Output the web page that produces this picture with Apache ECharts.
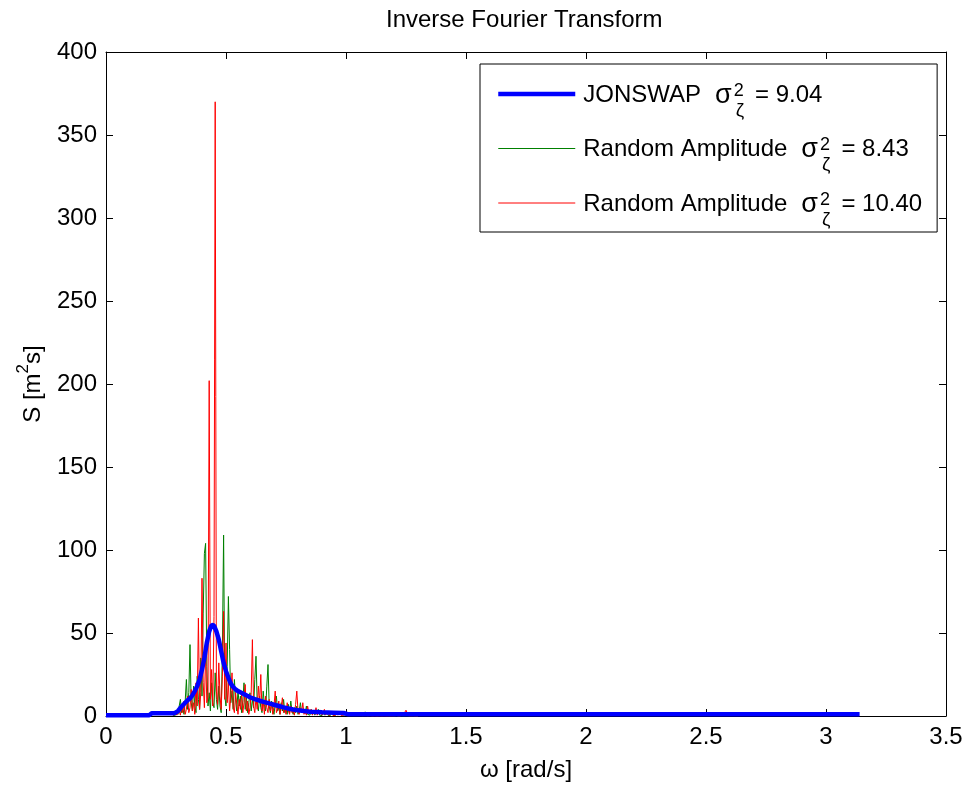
<!DOCTYPE html>
<html>
<head>
<meta charset="utf-8">
<script src="https://cdn.jsdelivr.net/npm/echarts@6.0.0/dist/echarts.min.js"></script>
<style>
html,body{margin:0;padding:0;background:#ffffff;}
#chart{width:970px;height:787px;}
</style>
</head>
<body>
<div id="chart"></div>
<script>
// ---------- data ----------
const xTickValues = [0, 0.5, 1, 1.5, 2, 2.5, 3, 3.5];
const yTickValues = [0, 50, 100, 150, 200, 250, 300, 350, 400];

// JONSWAP spectrum (thick blue line)
const jonswapOmega = [0, 0.18, 0.19, 0.28, 0.29, 0.30, 0.31, 0.32, 0.33, 0.34, 0.35, 0.36, 0.37, 0.38, 0.39,
  0.40, 0.41, 0.42, 0.43, 0.44, 0.45, 0.46, 0.47, 0.48, 0.49, 0.50, 0.51, 0.52, 0.53, 0.54, 0.55, 0.56,
  0.58, 0.60, 0.62, 0.64, 0.66, 0.68, 0.70, 0.72, 0.74, 0.76, 0.78, 0.80, 0.85, 0.90, 0.95, 0.99, 1.01, 3.14];
const jonswapS = [0.5, 0.5, 1.6, 1.6, 2, 3, 4.8, 6.5, 8, 9.5, 10.6, 12.5, 15, 18, 22,
  28, 35, 44, 51, 54.8, 54.5, 51, 46, 39, 32, 27, 23, 19.5, 17.5, 16, 15, 14.3,
  12.8, 11.3, 10.2, 9.2, 8.4, 7.6, 6.8, 6, 5.2, 4.5, 3.9, 3.4, 2.6, 2.2, 2.0, 1.8, 1.0, 1.0];

// Frequency grid of the two random-amplitude realisations
const randomOmega = [
  0.280, 0.285, 0.290, 0.295,
  0.300, 0.305, 0.310, 0.315, 0.320, 0.325, 0.330, 0.335, 0.340, 0.345, 0.350, 0.355, 0.360, 0.365, 0.370, 0.375, 0.380, 0.385, 0.390, 0.395,
  0.400, 0.405, 0.410, 0.415, 0.420, 0.425, 0.430, 0.435, 0.440, 0.445, 0.450, 0.455, 0.460, 0.465, 0.470, 0.475, 0.480, 0.485, 0.490, 0.495,
  0.500, 0.505, 0.510, 0.515, 0.520, 0.525, 0.530, 0.535, 0.540, 0.545, 0.550, 0.555, 0.560, 0.565, 0.570, 0.575, 0.580, 0.585, 0.590, 0.595,
  0.600, 0.605, 0.610, 0.615, 0.620, 0.625, 0.630, 0.635, 0.640, 0.645, 0.650, 0.655, 0.660, 0.665, 0.670, 0.675, 0.680, 0.685, 0.690, 0.695,
  0.700, 0.705, 0.710, 0.715, 0.720, 0.725, 0.730, 0.735, 0.740, 0.745, 0.750, 0.755, 0.760, 0.765, 0.770, 0.775, 0.780, 0.785, 0.790, 0.795,
  0.800, 0.805, 0.810, 0.815, 0.820, 0.825, 0.830, 0.835, 0.840, 0.845, 0.850, 0.855, 0.860, 0.865, 0.870, 0.875, 0.880, 0.885, 0.890, 0.895,
  0.900, 0.905, 0.910, 0.915, 0.920, 0.925, 0.930, 0.935, 0.940, 0.945, 0.950, 0.955, 0.960, 0.965, 0.970, 0.975, 0.980, 0.985, 0.990, 0.995,
  1.00, 1.01, 1.02, 1.03, 1.04, 1.05, 1.06, 1.07, 1.08, 1.09,
  1.10, 1.11, 1.12, 1.13, 1.14, 1.15, 1.16, 1.17, 1.18, 1.19,
  1.20, 1.21, 1.22, 1.23, 1.24, 1.25, 1.26, 1.27, 1.28, 1.29, 1.30];

// Random Amplitude, variance 8.43 (green)
const greenS = [
  0.3, 1, 0.5, 3,
  1, 6, 10, 2, 5, 1, 9, 22, 4, 14, 43, 8, 3, 18, 6, 2, 24, 10, 4, 35,
  12, 62, 98, 104, 30, 6, 14, 3, 20, 8, 5, 26, 10, 4, 18, 6, 2, 40, 109, 12,
  6, 30, 72, 40, 8, 15, 4, 22, 10, 3, 16, 6, 12, 2, 9, 20, 4, 11, 2, 8,
  14, 3, 10, 5, 22, 36, 8, 3, 12, 5, 2, 15, 7, 3, 18, 31, 6, 2, 9, 4,
  1, 7, 12, 3, 5, 1, 8, 3, 10, 2, 4, 1, 7, 2, 9, 3, 1, 5, 2, 6,
  1, 3, 8, 2, 1, 4, 1.5, 6, 1, 2, 0.5, 4, 1, 3, 0.5, 2, 1, 4, 0.5, 1.5,
  0.3, 2.5, 0.5, 1, 3, 0.4, 1, 0.3, 2, 0.5, 1, 0.2, 1.5, 0.4, 0.8, 0.2, 1.2, 0.3, 0.6, 0.2,
  0.8, 0.3, 0.8, 0.2, 1.5, 0.3, 0.5, 0.2, 2.5, 0.3,
  0.6, 2, 0.4, 1.2, 0.2, 0.5, 0.2, 0.4, 0.1, 0.3,
  0.1, 0.2, 0.1, 0.2, 0.1, 0.2, 0.1, 0.2, 0.1, 0.1, 0.1];

// Random Amplitude, variance 10.40 (red)
const redS = [
  0.2, 0.5, 2, 0.5,
  1, 3, 0.5, 6, 2, 9, 1, 4, 12, 2, 5, 16, 3, 8, 1, 20, 6, 59, 4, 14,
  83, 20, 5, 40, 8, 12, 202, 10, 28, 6, 60, 370, 15, 7, 32, 12, 4, 24, 63, 10,
  44, 8, 20, 3, 12, 26, 5, 2, 14, 7, 1, 10, 4, 13, 2, 8, 19, 3, 9, 1,
  5, 14, 46, 6, 2, 11, 4, 18, 8, 25, 3, 9, 1, 12, 5, 2, 10, 3, 7, 1,
  6, 15, 2, 4, 9, 1, 5, 11, 2, 6, 1, 8, 3, 1, 6, 2, 4, 0.5, 7, 15,
  3, 1, 5, 2, 8, 1, 3, 0.5, 6, 2, 1, 4, 0.5, 3, 1, 5, 0.5, 2, 1, 3,
  0.5, 1.5, 4, 0.5, 1, 2.5, 0.3, 1, 3, 0.5, 1.5, 0.3, 2, 0.5, 1, 2.5, 0.3, 1, 0.5, 2,
  3, 1, 2, 0.5, 1, 0.3, 0.6, 0.2, 0.4, 0.2,
  0.3, 0.1, 0.2, 0.1, 0.2, 0.1, 0.2, 0.1, 0.2, 0.1,
  0.2, 0.3, 0.1, 0.2, 1, 3.5, 0.2, 0.1, 0.2, 0.1, 0.1];

const seriesNames = ['JONSWAP', 'Random Amplitude A', 'Random Amplitude B'];
const legendLabels = {
  'JONSWAP': ['JONSWAP', '9.04'],
  'Random Amplitude A': ['Random Amplitude', '8.43'],
  'Random Amplitude B': ['Random Amplitude', '10.40']
};
const seriesColors = ['#0000ff', '#008000', '#ff0000'];
const seriesWidths = [4.5, 1, 1];
const xAxisTitle = 'ω [rad/s]';
const chartTitle = 'Inverse Fourier Transform';

// ---------- chart ----------
const FONT = '"Liberation Sans", Arial, Helvetica, sans-serif';
const pairs = (xs, ys) => xs.map((x, i) => [x, ys[i]]);

const chart = echarts.init(document.getElementById('chart'), null, {renderer: 'canvas'});

const xMin = xTickValues[0], xMax = xTickValues[xTickValues.length - 1];
const yMin = yTickValues[0], yMax = yTickValues[yTickValues.length - 1];
const xInt = xTickValues[1] - xTickValues[0];
const yInt = yTickValues[1] - yTickValues[0];

function axisBase() {
  return {
    axisLine: {show: true, onZero: false, lineStyle: {color: '#000', width: 1}},
    axisTick: {show: true, inside: true, length: 7, lineStyle: {color: '#000', width: 1}},
    splitLine: {show: false}
  };
}
function labelStyle(margin) {
  return {show: true, color: '#000', fontSize: 24, fontFamily: FONT, margin: margin,
          showMinLabel: true, showMaxLabel: true, hideOverlap: false};
}

const option = {
  animation: false,
  backgroundColor: '#ffffff',
  title: {
    text: chartTitle,
    left: 386,
    top: 8,
    padding: 0,
    textStyle: {color: '#000', fontSize: 24, fontWeight: 'normal', fontFamily: FONT}
  },
  grid: {left: 106, right: 24, top: 52, bottom: 71, containLabel: false, outerBoundsMode: 'none'},
  legend: {
    data: seriesNames.map((n, i) => ({name: n, lineStyle: {width: seriesWidths[i], color: seriesColors[i]}, itemStyle: {opacity: 0}})),
    orient: 'vertical',
    left: 480,
    top: 64,
    itemWidth: 77,
    itemHeight: 2,
    itemGap: 16.5,
    padding: [18, 15, 3, 16],
    borderColor: '#000',
    borderWidth: 1,
    borderRadius: 0,
    backgroundColor: '#ffffff',
    selectedMode: false,
    itemStyle: {opacity: 0},
    formatter: function (name) {
      const l = legendLabels[name];
      return '{m0|' + l[0] + '}{g|σ}{sup|2}{sub|ζ}{m|= ' + l[1] + '}';
    },
    textStyle: {
      color: '#000',
      fontFamily: FONT,
      fontSize: 24,
      rich: {
        m0: {fontSize: 24, fontFamily: FONT, color: '#000', lineHeight: 24, padding: [1, 0, 0, 3], verticalAlign: 'top'},
        m: {fontSize: 24, fontFamily: FONT, color: '#000', lineHeight: 24, padding: [1, 0, 0, 0], verticalAlign: 'top'},
        g: {fontSize: 27, fontFamily: FONT, color: '#000', lineHeight: 24, padding: [0, 0, 0, 14], verticalAlign: 'top'},
        sup: {fontSize: 18, fontFamily: FONT, color: '#000', lineHeight: 18, padding: [0, 0, 0, 2], width: 0, verticalAlign: 'top'},
        sub: {fontSize: 19, fontFamily: FONT, color: '#000', lineHeight: 20, padding: [19, 11, 0, 2], verticalAlign: 'top'}
      }
    }
  },
  xAxis: [
    Object.assign({
      type: 'value', position: 'bottom', min: xMin, max: xMax, interval: xInt,
      name: xAxisTitle, nameLocation: 'middle', nameGap: 42,
      nameTextStyle: {color: '#000', fontSize: 24, fontFamily: FONT},
      axisLabel: labelStyle(9)
    }, axisBase()),
    Object.assign({type: 'value', position: 'top', min: xMin, max: xMax, interval: xInt,
      axisLabel: {show: false}}, axisBase())
  ],
  yAxis: [
    Object.assign({
      type: 'value', position: 'left', min: yMin, max: yMax, interval: yInt,
      name: '{a|S [m}{s|2}{a|s]}', nameLocation: 'middle', nameGap: 69, nameRotate: 90,
      nameTextStyle: {
        color: '#000', fontSize: 24, fontFamily: FONT,
        rich: {
          a: {fontSize: 24, fontFamily: FONT, color: '#000', lineHeight: 24, padding: [8, 0, 0, 0], verticalAlign: 'top'},
          s: {fontSize: 17, fontFamily: FONT, color: '#000', lineHeight: 16, padding: [2, 0, 0, 0], verticalAlign: 'top'}
        }
      },
      axisLabel: labelStyle(9)
    }, axisBase()),
    Object.assign({type: 'value', position: 'right', min: yMin, max: yMax, interval: yInt,
      axisLabel: {show: false}}, axisBase())
  ],
  series: [
    {
      name: seriesNames[1], type: 'line', xAxisIndex: 0, yAxisIndex: 0,
      data: pairs(randomOmega, greenS),
      symbol: 'none', showSymbol: false, clip: false, z: 2,
      color: seriesColors[1],
      lineStyle: {color: seriesColors[1], width: seriesWidths[1]}
    },
    {
      name: seriesNames[2], type: 'line', xAxisIndex: 0, yAxisIndex: 0,
      data: pairs(randomOmega, redS),
      symbol: 'none', showSymbol: false, clip: false, z: 2,
      color: seriesColors[2],
      lineStyle: {color: seriesColors[2], width: seriesWidths[2]}
    },
    {
      name: seriesNames[0], type: 'line', xAxisIndex: 0, yAxisIndex: 0,
      data: pairs(jonswapOmega, jonswapS),
      symbol: 'none', showSymbol: false, clip: false, z: 3,
      color: seriesColors[0],
      lineStyle: {color: seriesColors[0], width: seriesWidths[0]}
    }
  ]
};

chart.setOption(option);
</script>
</body>
</html>
